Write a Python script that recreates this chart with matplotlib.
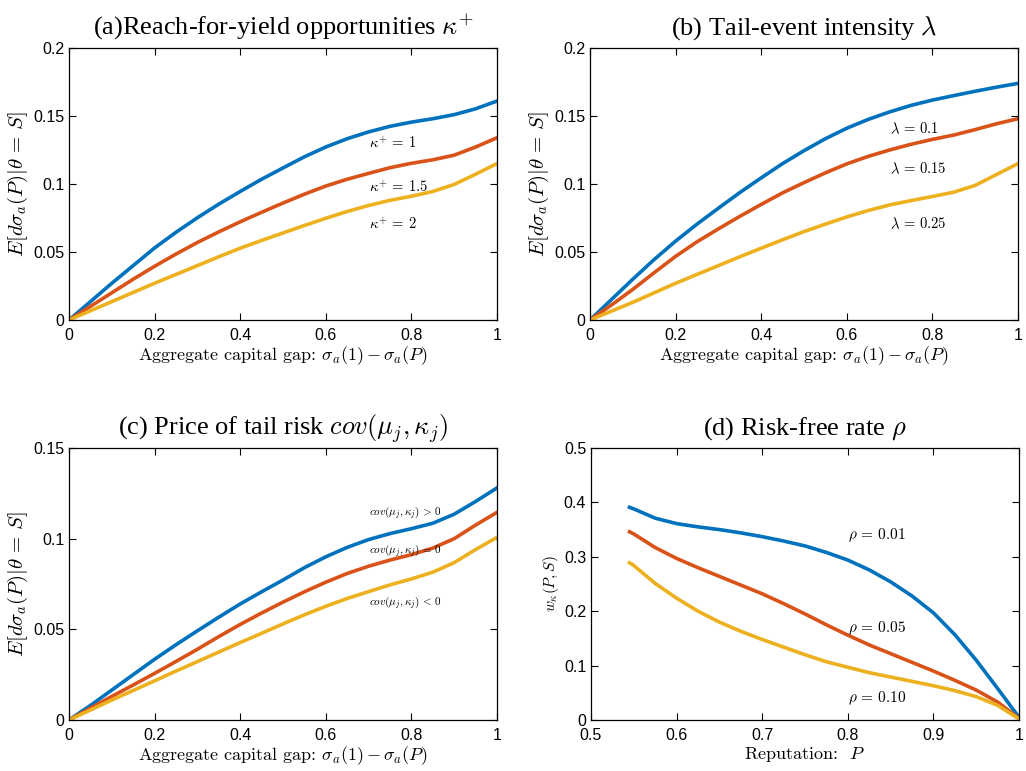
import matplotlib
matplotlib.use('Agg')
import matplotlib.pyplot as plt
import numpy as np

plt.rcParams['mathtext.fontset'] = 'cm'
plt.rcParams['font.family'] = 'Liberation Sans'

blue = '#0072BD'
red = '#D95319'
yellow = '#EDB120'

# panel (a)/(b)/(c) x grid: aggregate capital gap
gap = [0, 0.05, 0.1, 0.15, 0.2, 0.25, 0.3, 0.35, 0.4, 0.45, 0.5, 0.55, 0.6, 0.65,
       0.7, 0.75, 0.8, 0.85, 0.9, 0.95, 1.0]

# (a) reach-for-yield opportunities kappa+
a_k1 = [0, 0.0135, 0.027, 0.040, 0.0530, 0.0645, 0.0752, 0.0852, 0.0945, 0.1035, 0.1118,
        0.1200, 0.1272, 0.1333, 0.1383, 0.1424, 0.1455, 0.1480, 0.1510, 0.1553, 0.1610]
a_k15 = [0, 0.0100, 0.0200, 0.0300, 0.0395, 0.0485, 0.0570, 0.0648, 0.0722, 0.0792, 0.0860,
         0.0925, 0.0985, 0.1035, 0.1078, 0.1120, 0.1152, 0.1178, 0.1212, 0.1272, 0.1340]
a_k2 = [0, 0.0068, 0.0135, 0.0203, 0.0270, 0.0335, 0.0400, 0.0465, 0.0528, 0.0585, 0.0640,
        0.0695, 0.0748, 0.0798, 0.0842, 0.0880, 0.0910, 0.0945, 0.0997, 0.1072, 0.1150]

# (b) tail-event intensity lambda
b_l01 = [0, 0.0150, 0.0300, 0.0445, 0.0580, 0.0705, 0.0822, 0.0937, 0.1045, 0.1150, 0.1245,
         0.1333, 0.1410, 0.1475, 0.1530, 0.1578, 0.1617, 0.1650, 0.1682, 0.1712, 0.1740]
b_l015 = [0, 0.0110, 0.0225, 0.0348, 0.0468, 0.0575, 0.0670, 0.0762, 0.0850, 0.0935, 0.1010,
          0.1082, 0.1148, 0.1203, 0.1250, 0.1292, 0.1328, 0.1360, 0.1400, 0.1443, 0.1480]
b_l025 = [0, 0.0065, 0.0130, 0.0200, 0.0270, 0.0335, 0.0400, 0.0465, 0.0528, 0.0590, 0.0650,
          0.0705, 0.0758, 0.0805, 0.0846, 0.0878, 0.0908, 0.0940, 0.0990, 0.1070, 0.1150]

# (c) price of tail risk cov(mu_j, kappa_j)
c_pos = [0, 0.0080, 0.0165, 0.0250, 0.0335, 0.0415, 0.0492, 0.0567, 0.0640, 0.0707, 0.0772,
         0.0840, 0.0900, 0.0952, 0.0995, 0.1028, 0.1055, 0.1085, 0.1135, 0.1205, 0.1280]
c_zero = [0, 0.0065, 0.0130, 0.0193, 0.0257, 0.0323, 0.0390, 0.0460, 0.0527, 0.0590, 0.0650,
          0.0707, 0.0760, 0.0808, 0.0848, 0.0882, 0.0912, 0.0948, 0.1000, 0.1075, 0.1145]
c_neg = [0, 0.0055, 0.0110, 0.0163, 0.0216, 0.0270, 0.0322, 0.0375, 0.0427, 0.0478, 0.0530,
         0.0580, 0.0627, 0.0670, 0.0708, 0.0745, 0.0778, 0.0815, 0.0868, 0.0940, 0.1007]

# (d) risk-free rate rho
rep = [0.545, 0.55, 0.575, 0.6, 0.625, 0.65, 0.675, 0.7, 0.725, 0.75, 0.775, 0.8, 0.825,
       0.85, 0.875, 0.9, 0.925, 0.95, 0.975, 1.0]
d_r001 = [0.391, 0.388, 0.371, 0.361, 0.355, 0.350, 0.344, 0.337, 0.329, 0.320, 0.308, 0.294,
          0.276, 0.254, 0.228, 0.197, 0.157, 0.110, 0.058, 0.005]
d_r005 = [0.346, 0.342, 0.317, 0.297, 0.280, 0.264, 0.248, 0.232, 0.214, 0.195, 0.175, 0.156,
          0.138, 0.122, 0.106, 0.090, 0.073, 0.055, 0.033, 0.003]
d_r010 = [0.289, 0.284, 0.251, 0.224, 0.200, 0.180, 0.163, 0.148, 0.134, 0.120, 0.107, 0.097,
          0.087, 0.079, 0.071, 0.063, 0.054, 0.043, 0.027, 0.002]

ylab = r'$E[d\sigma_a(P)|\theta\, =\, S]$'
xlab = r'Aggregate capital gap: $\sigma_a(1) - \sigma_a(P)$'

fig = plt.figure(figsize=(10.26, 7.71), dpi=100)
W, H = 1026.0, 771.0


def make_ax(l, r, t, b):
    ax = fig.add_axes([l / W, 1 - b / H, (r - l) / W, (b - t) / H])
    ax.tick_params(direction='in', top=True, right=True, labelsize=11.5, length=5, width=0.8)
    ax.tick_params(axis='x', pad=6)
    for s in ax.spines.values():
        s.set_linewidth(0.9)
    return ax


def style(ax, title, ylabel, ylsize=15):
    ax.set_title(title, fontsize=19, family='Liberation Serif', pad=10)
    ax.set_ylabel(ylabel, fontsize=ylsize, labelpad=2)


lw = 2.6

ax = make_ax(69, 497, 48, 320)
ax.plot(gap, a_k1, color=blue, lw=lw)
ax.plot(gap, a_k15, color=red, lw=lw)
ax.plot(gap, a_k2, color=yellow, lw=lw)
ax.set_xlim(0, 1)
ax.set_ylim(0, 0.2)
ax.set_xticks([0, 0.2, 0.4, 0.6, 0.8, 1.0], ['0', '0.2', '0.4', '0.6', '0.8', '1'])
ax.set_yticks([0, 0.05, 0.1, 0.15, 0.2], ['0', '0.05', '0.1', '0.15', '0.2'])
ax.text(0.7, 0.13, r'$\kappa^{+}\, =\, 1$', fontsize=10.5, va='center')
ax.text(0.7, 0.098, r'$\kappa^{+}\, =\, 1.5$', fontsize=10.5, va='center')
ax.text(0.7, 0.0705, r'$\kappa^{+}\, =\, 2$', fontsize=10.5, va='center')
ax.set_xlabel(xlab, fontsize=13, labelpad=1, family='cmr10')
style(ax, r'(a)Reach-for-yield opportunities $\kappa^{+}$', ylab)

ax = make_ax(590, 1018, 48, 320)
ax.plot(gap, b_l01, color=blue, lw=lw)
ax.plot(gap, b_l015, color=red, lw=lw)
ax.plot(gap, b_l025, color=yellow, lw=lw)
ax.set_xlim(0, 1)
ax.set_ylim(0, 0.2)
ax.set_xticks([0, 0.2, 0.4, 0.6, 0.8, 1.0], ['0', '0.2', '0.4', '0.6', '0.8', '1'])
ax.set_yticks([0, 0.05, 0.1, 0.15, 0.2], ['0', '0.05', '0.1', '0.15', '0.2'])
ax.text(0.7, 0.141, r'$\lambda\, =\, 0.1$', fontsize=10.5, va='center')
ax.text(0.7, 0.111, r'$\lambda\, =\, 0.15$', fontsize=10.5, va='center')
ax.text(0.7, 0.071, r'$\lambda\, =\, 0.25$', fontsize=10.5, va='center')
ax.set_xlabel(xlab, fontsize=13, labelpad=1, family='cmr10')
style(ax, r'(b) Tail-event intensity $\lambda$', ylab)

ax = make_ax(69, 497, 448, 720)
ax.plot(gap, c_pos, color=blue, lw=lw)
ax.plot(gap, c_zero, color=red, lw=lw)
ax.plot(gap, c_neg, color=yellow, lw=lw)
ax.set_xlim(0, 1)
ax.set_ylim(0, 0.15)
ax.set_xticks([0, 0.2, 0.4, 0.6, 0.8, 1.0], ['0', '0.2', '0.4', '0.6', '0.8', '1'])
ax.set_yticks([0, 0.05, 0.1, 0.15], ['0', '0.05', '0.1', '0.15'])
ax.text(0.7, 0.1145, r'$cov(\mu_j,\kappa_j)\, >\, 0$', fontsize=8, va='center')
ax.text(0.7, 0.0935, r'$cov(\mu_j,\kappa_j)\, =\, 0$', fontsize=8, va='center')
ax.text(0.7, 0.065, r'$cov(\mu_j,\kappa_j)\, <\, 0$', fontsize=8, va='center')
ax.set_xlabel(xlab, fontsize=13, labelpad=1, family='cmr10')
style(ax, r'(c) Price of tail risk $cov(\mu_j,\kappa_j)$', ylab)

ax = make_ax(591, 1019, 448, 720)
ax.plot(rep, d_r001, color=blue, lw=lw)
ax.plot(rep, d_r005, color=red, lw=lw)
ax.plot(rep, d_r010, color=yellow, lw=lw)
ax.set_xlim(0.5, 1)
ax.set_ylim(0, 0.5)
ax.set_xticks([0.5, 0.6, 0.7, 0.8, 0.9, 1.0], ['0.5', '0.6', '0.7', '0.8', '0.9', '1'])
ax.set_yticks([0, 0.1, 0.2, 0.3, 0.4, 0.5], ['0', '0.1', '0.2', '0.3', '0.4', '0.5'])
ax.text(0.8, 0.34, r'$\rho\, =\, 0.01$', fontsize=11, va='center')
ax.text(0.8, 0.169, r'$\rho\, =\, 0.05$', fontsize=11, va='center')
ax.text(0.8, 0.039, r'$\rho\, =\, 0.10$', fontsize=11, va='center')
ax.set_xlabel(r'Reputation:  $P$', fontsize=13, labelpad=1, family='cmr10')
style(ax, r'(d) Risk-free rate $\rho$', r'$w_\kappa(P,S)$', ylsize=11)

fig.savefig('out.png', dpi=100)
